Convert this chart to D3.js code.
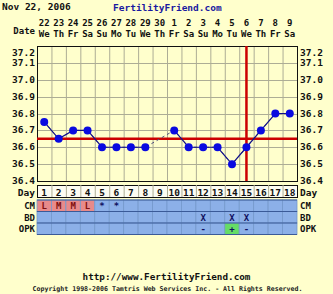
<!DOCTYPE html>
<html>
<head>
<meta charset="utf-8">
<script src="https://cdn.jsdelivr.net/npm/d3@7"></script>
<style>
  body { margin: 0; background: #ffffcc; }
  text { font-family: "DejaVu Sans Mono", monospace; font-weight: bold; }
</style>
</head>
<body>
<div id="chart-container"></div>
<script>
// data
const days = d3.range(1, 19)
const dates = ['22', '23', '24', '25', '26', '27', '28', '29', '30', '1', '2', '3', '4', '5', '6', '7', '8', '9']
const weekdays = ['We', 'Th', 'Fr', 'Sa', 'Su', 'Mo', 'Tu', 'We', 'Th', 'Fr', 'Sa', 'Su', 'Mo', 'Tu', 'We', 'Th', 'Fr', 'Sa']
const temps = [36.75, 36.65, 36.7, 36.7, 36.6, 36.6, 36.6, 36.6, null, 36.7, 36.6, 36.6, 36.6, 36.5, 36.6, 36.7, 36.8, 36.8]
const tempTicks = [37.2, 37.1, 37.0, 36.9, 36.8, 36.7, 36.6, 36.5, 36.4]
const cm = ['L', 'M', 'M', 'L', '*', '*', '', '', '', '', '', '', '', '', '', '', '', '']
const bd = ['', '', '', '', '', '', '', '', '', '', '', 'X', '', 'X', 'X', '', '', '']
const opk = ['', '', '', '', '', '', '', '', '', '', '', '-', '', '+', '-', '', '', '']
const coverline = 36.65
const ovulationDay = 15

// constants
const width = 333
const height = 294
const plot = {left: 37, right: 297, top: 46, bottom: 181}

const svg = d3.select('#chart-container')
  .append('svg')
  .attr('width', width)
  .attr('height', height)

svg.append('rect').attr('width', width).attr('height', height).attr('fill', '#ffffcc')

const x = d3.scaleBand()
  .domain(days)
  .range([plot.left, plot.right])
const cx = d => x(d) + x.bandwidth() / 2

const y = d3.scaleLinear()
  .domain([36.4, 37.2])
  .range([plot.bottom, plot.top])

// header
svg.append('text').attr('x', 2).attr('y', 10).attr('font-size', '9.5px').attr('fill', '#111').text('Nov 22, 2006')
svg.append('text').attr('x', 113).attr('y', 11).attr('font-size', '9.5px').attr('fill', '#1a1aa0').text('FertilityFriend.com')

svg.append('text').attr('x', 35).attr('y', 34).attr('text-anchor', 'end').attr('font-size', '9px').attr('fill', '#111').text('Date')
svg.append('g').selectAll('text')
  .data(days).enter()
  .append('text')
  .attr('x', d => cx(d))
  .attr('y', 26)
  .attr('text-anchor', 'middle')
  .attr('font-size', '9px')
  .attr('fill', '#111')
  .text(d => dates[d - 1])
svg.append('g').selectAll('text')
  .data(days).enter()
  .append('text')
  .attr('x', d => cx(d))
  .attr('y', 37)
  .attr('text-anchor', 'middle')
  .attr('font-size', '9px')
  .attr('fill', '#111')
  .text(d => weekdays[d - 1])

// grid
const grid = svg.append('g').attr('stroke', '#adad95').attr('stroke-width', 1)
grid.selectAll('.v')
  .data(days.slice(1)).enter()
  .append('line')
  .attr('x1', d => x(d) + 0.5).attr('x2', d => x(d) + 0.5)
  .attr('y1', plot.top).attr('y2', plot.bottom)
grid.selectAll('.h')
  .data(tempTicks.slice(1, -1)).enter()
  .append('line')
  .attr('x1', plot.left).attr('x2', plot.right)
  .attr('y1', d => Math.round(y(d)) + 0.5).attr('y2', d => Math.round(y(d)) + 0.5)
svg.append('rect')
  .attr('x', plot.left + 0.5).attr('y', plot.top + 0.5)
  .attr('width', plot.right - plot.left).attr('height', plot.bottom - plot.top)
  .attr('fill', 'none').attr('stroke', '#111')

// temperature labels
const tickFmt = d3.format('.1f')
;[[35, 'end'], [300, 'start']].forEach(([tx, anchor]) => {
  svg.append('g').selectAll('text')
    .data(tempTicks).enter()
    .append('text')
    .attr('x', tx)
    .attr('y', d => d === 37.2 ? y(d) + 9.5 : y(d) + 3)
    .attr('text-anchor', anchor)
    .attr('font-size', '9.5px')
    .attr('fill', '#111')
    .text(d => tickFmt(d))
})

// coverline and ovulation line
svg.append('line')
  .attr('x1', plot.left).attr('x2', plot.right)
  .attr('y1', y(coverline)).attr('y2', y(coverline))
  .attr('stroke', '#cc0000').attr('stroke-width', 2.5)
svg.append('line')
  .attr('x1', cx(ovulationDay)).attr('x2', cx(ovulationDay))
  .attr('y1', plot.top).attr('y2', plot.bottom)
  .attr('stroke', '#cc0000').attr('stroke-width', 2.5)

// temperature line
const pts = days.map(d => ({day: d, t: temps[d - 1]}))
const line = d3.line()
  .defined(d => d.t !== null)
  .x(d => cx(d.day))
  .y(d => y(d.t))
svg.append('path')
  .datum(pts.filter(d => d.t !== null))
  .attr('d', line)
  .attr('fill', 'none')
  .attr('stroke', '#50507a')
  .attr('stroke-dasharray', '3,3')
svg.append('path')
  .datum(pts)
  .attr('d', line)
  .attr('fill', 'none')
  .attr('stroke', '#10108a')
  .attr('stroke-width', 1.2)
svg.append('g').selectAll('circle')
  .data(pts.filter(d => d.t !== null)).enter()
  .append('circle')
  .attr('cx', d => cx(d.day))
  .attr('cy', d => y(d.t))
  .attr('r', 4)
  .attr('fill', '#0a0ae0')

// day row
const dayTop = 185
const dayH = 12
svg.append('rect')
  .attr('x', plot.left + 0.5).attr('y', dayTop + 0.5)
  .attr('width', plot.right - plot.left).attr('height', dayH)
  .attr('fill', '#fcfcf2').attr('stroke', '#111')
svg.append('g').selectAll('line')
  .data(days.slice(1)).enter()
  .append('line')
  .attr('x1', d => x(d) + 0.5).attr('x2', d => x(d) + 0.5)
  .attr('y1', dayTop).attr('y2', dayTop + dayH)
  .attr('stroke', '#adad95')
svg.append('g').selectAll('text')
  .data(days).enter()
  .append('text')
  .attr('x', d => cx(d))
  .attr('y', dayTop + 10.5)
  .attr('text-anchor', 'middle')
  .attr('font-size', '9.5px')
  .attr('fill', '#111')
  .text(d => d)

// observation rows
const rows = [
  {name: 'CM', values: cm},
  {name: 'BD', values: bd},
  {name: 'OPK', values: opk}
]
const rowTop = 200
const rowH = 11.5
const cellFill = (row, v) => {
  if (row === 'CM' && (v === 'L' || v === 'M')) return '#e88a8a'
  if (row === 'OPK' && v === '+') return '#66dd66'
  return '#8cb0e8'
}
rows.forEach((row, i) => {
  const ry = rowTop + i * rowH
  const g = svg.append('g')
  g.selectAll('rect')
    .data(days).enter()
    .append('rect')
    .attr('x', d => x(d))
    .attr('y', ry)
    .attr('width', x.bandwidth())
    .attr('height', rowH)
    .attr('fill', d => cellFill(row.name, row.values[d - 1]))
    .attr('stroke', '#7498cc')
    .attr('stroke-width', 0.8)
  g.selectAll('text')
    .data(days.filter(d => row.values[d - 1] !== '')).enter()
    .append('text')
    .attr('x', d => cx(d))
    .attr('y', ry + 9)
    .attr('text-anchor', 'middle')
    .attr('font-size', '9px')
    .attr('fill', d => row.name === 'CM' && row.values[d - 1] !== '*' ? '#801010' : '#101060')
    .text(d => row.values[d - 1])
  g.append('line')
    .attr('x1', plot.left).attr('x2', plot.right)
    .attr('y1', ry).attr('y2', ry)
    .attr('stroke', '#3a5a98')
  ;[[35, 'end'], [300, 'start']].forEach(([tx, anchor]) => {
    svg.append('text')
      .attr('x', tx).attr('y', ry + 9)
      .attr('text-anchor', anchor)
      .attr('font-size', '9px')
      .attr('fill', '#111')
      .text(row.name)
  })
})
svg.append('line')
  .attr('x1', plot.left).attr('x2', plot.right)
  .attr('y1', rowTop + 3 * rowH).attr('y2', rowTop + 3 * rowH)
  .attr('stroke', '#3a5a98')
;[[35, 'end'], [300, 'start']].forEach(([tx, anchor]) => {
  svg.append('text')
    .attr('x', tx).attr('y', dayTop + 10.5)
    .attr('text-anchor', anchor)
    .attr('font-size', '9.5px')
    .attr('fill', '#111')
    .text('Day')
})

// footer
svg.append('text').attr('x', width / 2).attr('y', 280).attr('text-anchor', 'middle')
  .attr('font-size', '9.3px').attr('fill', '#111').text('http://www.FertilityFriend.com')
svg.append('text').attr('x', width / 2 + 1).attr('y', 291).attr('text-anchor', 'middle')
  .attr('font-size', '6.6px').attr('font-weight', 'normal').attr('fill', '#222')
  .text('Copyright 1998-2006 Tamtris Web Services Inc. - All Rights Reserved.')
</script>
</body>
</html>
